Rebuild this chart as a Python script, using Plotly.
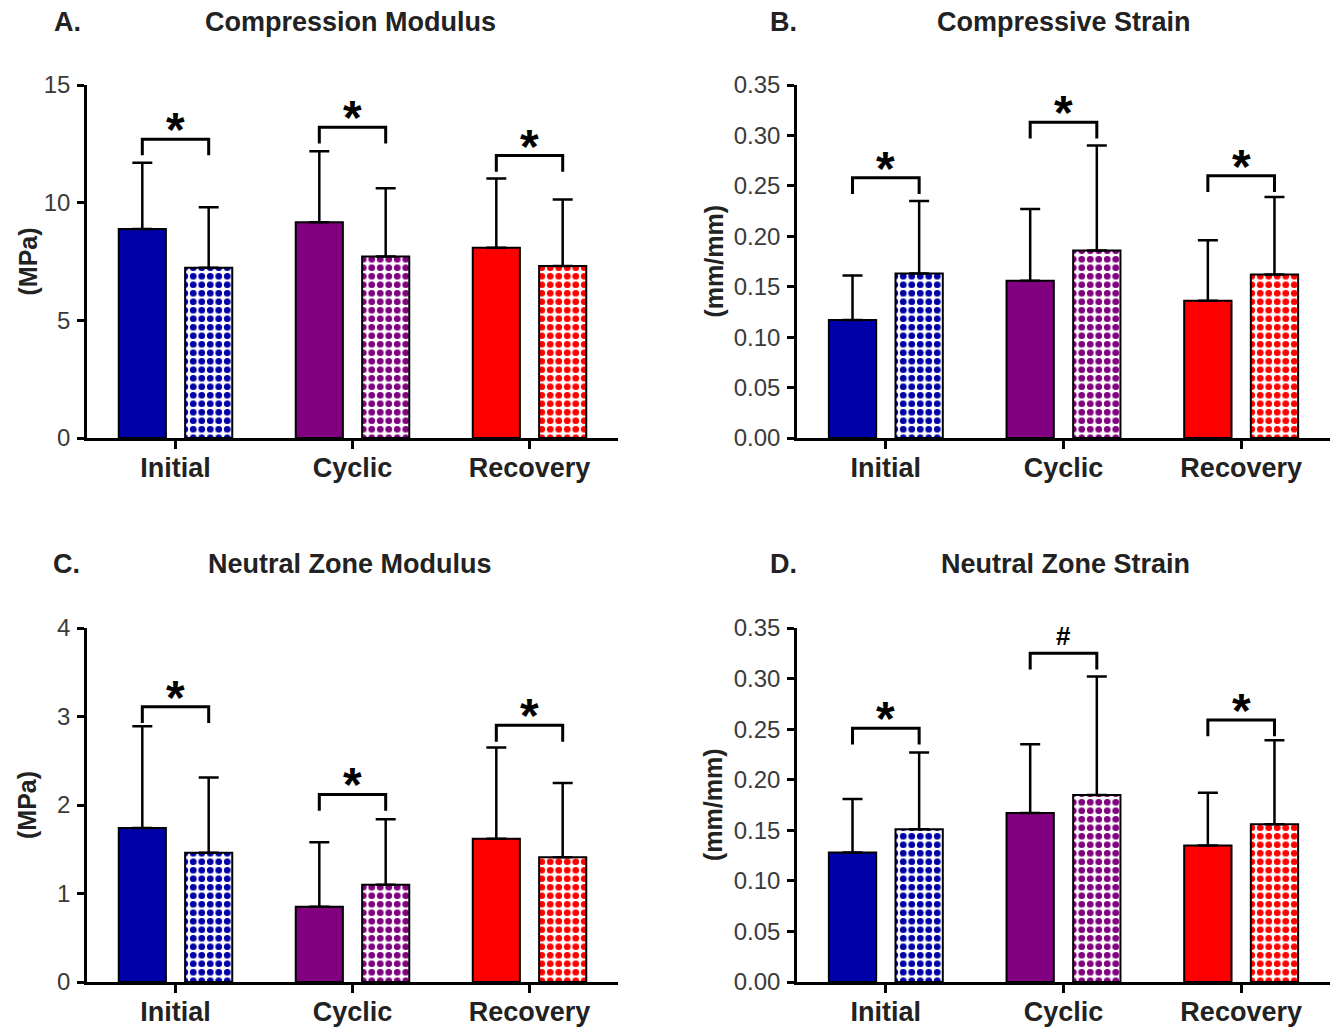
import plotly.graph_objects as go

categories = ["Initial", "Cyclic", "Recovery"]
colors = ["#0000A8", "#800080", "#FF0000"]

panel_titles = ["Compression Modulus", "Compressive Strain", "Neutral Zone Modulus", "Neutral Zone Strain"]
panel_letters = ["A.", "B.", "C.", "D."]
y_titles = ["(MPa)", "(mm/mm)", "(MPa)", "(mm/mm)"]

# Panel A - Compression Modulus
a_solid = [8.88, 9.17, 8.08]
a_solid_sd = [2.82, 3.01, 2.95]
a_check = [7.23, 7.71, 7.31]
a_check_sd = [2.57, 2.90, 2.82]
a_brackets = [12.7, 13.2, 12.0]
a_symbols = ["*", "*", "*"]

# Panel B - Compressive Strain
b_solid = [0.117, 0.156, 0.136]
b_solid_sd = [0.044, 0.071, 0.060]
b_check = [0.163, 0.186, 0.162]
b_check_sd = [0.072, 0.104, 0.077]
b_brackets = [0.258, 0.313, 0.260]
b_symbols = ["*", "*", "*"]

# Panel C - Neutral Zone Modulus
c_solid = [1.74, 0.85, 1.62]
c_solid_sd = [1.15, 0.73, 1.03]
c_check = [1.46, 1.10, 1.41]
c_check_sd = [0.85, 0.74, 0.84]
c_brackets = [3.11, 2.12, 2.90]
c_symbols = ["*", "*", "*"]

# Panel D - Neutral Zone Strain
d_solid = [0.128, 0.167, 0.135]
d_solid_sd = [0.053, 0.068, 0.052]
d_check = [0.151, 0.185, 0.156]
d_check_sd = [0.076, 0.117, 0.083]
d_brackets = [0.251, 0.325, 0.259]
d_symbols = ["*", "#", "*"]

y_ranges = [[0, 15], [0, 0.35], [0, 4], [0, 0.35]]
y_dticks = [5, 0.05, 1, 0.05]
y_formats = ["d", ".2f", "d", ".2f"]

panels = [
    (a_solid, a_solid_sd, a_check, a_check_sd, a_brackets, a_symbols),
    (b_solid, b_solid_sd, b_check, b_check_sd, b_brackets, b_symbols),
    (c_solid, c_solid_sd, c_check, c_check_sd, c_brackets, c_symbols),
    (d_solid, d_solid_sd, d_check, d_check_sd, d_brackets, d_symbols),
]

# figure size (page body adds an 8px margin on the top/left)
W, H = 1334, 1024
FONT = "Liberation Sans, Arial, sans-serif"

# plot-area boxes in figure pixels: (left, right, top, bottom)
boxes = [(79, 610, 77, 430), (789, 1322, 77, 430), (79, 610, 620, 974), (789, 1322, 620, 974)]
title_y = [14, 14, 556, 556]
title_x = [343, 1056, 342, 1057]
letter_x = [59, 775, 58, 775]
ytitle_x = [19, 705, 19, 705]

fig = go.Figure()
layout = dict(
    width=W, height=H, margin=dict(l=0, r=0, t=0, b=0, pad=0),
    paper_bgcolor="white", plot_bgcolor="white",
    barmode="group", bargap=0.25, bargroupgap=0.29,
    showlegend=False, font=dict(family=FONT),
)
annotations = []
half = 0.1875
x_idx = list(range(len(categories)))

for p, (solid, solid_sd, check, check_sd, brackets, symbols) in enumerate(panels):
    n = "" if p == 0 else str(p + 1)
    xa, ya = "x" + n, "y" + n
    l, r, t, b = boxes[p]
    layout["xaxis" + n] = dict(
        domain=[l / W, r / W], range=[-0.5, 2.5], anchor=ya,
        tickmode="array", tickvals=x_idx, ticktext=["<b>" + c + "</b>" for c in categories],
        showline=True, linecolor="black", linewidth=2.5,
        ticks="outside", ticklen=8, tickwidth=2.5, tickcolor="black",
        tickfont=dict(family=FONT, size=27, color="#222"), ticklabelstandoff=-4,
        showgrid=False, zeroline=False, fixedrange=True, automargin=False,
    )
    layout["yaxis" + n] = dict(
        domain=[1 - b / H, 1 - t / H], range=y_ranges[p], anchor=xa,
        dtick=y_dticks[p], tickformat=y_formats[p],
        showline=True, linecolor="black", linewidth=2.5,
        ticks="outside", ticklen=7, tickwidth=2.5, tickcolor="black",
        tickfont=dict(family=FONT, size=24, color="#3a3a3a"), ticklabelstandoff=2,
        showgrid=False, zeroline=False, fixedrange=True, automargin=False,
    )
    fig.add_trace(go.Bar(
        x=x_idx, y=solid, xaxis=xa, yaxis=ya,
        marker=dict(color=colors, line=dict(color="black", width=2)),
        error_y=dict(type="data", symmetric=False, array=solid_sd, arrayminus=[0] * 3,
                     color="black", thickness=2.5, width=10),
    ))
    fig.add_trace(go.Bar(
        x=x_idx, y=check, xaxis=xa, yaxis=ya,
        marker=dict(color=colors, line=dict(color="black", width=2),
                    pattern=dict(shape=".", fgcolor=colors, bgcolor="white",
                                 size=8.5, solidity=0.5, fillmode="replace")),
        error_y=dict(type="data", symmetric=False, array=check_sd, arrayminus=[0] * 3,
                     color="black", thickness=2.5, width=10),
    ))
    leg = 0.046 * (y_ranges[p][1] - y_ranges[p][0])
    bx, by = [], []
    for i, yb in enumerate(brackets):
        bx += [i - half, i - half, i + half, i + half, None]
        by += [yb - leg, yb, yb, yb - leg, None]
    fig.add_trace(go.Scatter(
        x=bx, y=by, xaxis=xa, yaxis=ya, mode="lines",
        line=dict(color="black", width=3), hoverinfo="skip",
    ))
    for i, (yb, s) in enumerate(zip(brackets, symbols)):
        if s == "*":
            annotations.append(dict(x=i, y=yb, xref=xa, yref=ya, text="<b>*</b>",
                                    showarrow=False, yanchor="bottom", yshift=-19,
                                    font=dict(family=FONT, size=48, color="black")))
        else:
            annotations.append(dict(x=i, y=yb, xref=xa, yref=ya, text="<b>" + s + "</b>",
                                    showarrow=False, yanchor="bottom", yshift=0,
                                    font=dict(family=FONT, size=26, color="black")))
    annotations.append(dict(x=title_x[p] / W, y=1 - title_y[p] / H, xref="paper", yref="paper",
                            text="<b>" + panel_titles[p] + "</b>", showarrow=False,
                            xanchor="center", yanchor="middle",
                            font=dict(family=FONT, size=27, color="#222")))
    annotations.append(dict(x=letter_x[p] / W, y=1 - title_y[p] / H, xref="paper", yref="paper",
                            text="<b>" + panel_letters[p] + "</b>", showarrow=False,
                            xanchor="center", yanchor="middle",
                            font=dict(family=FONT, size=27, color="#222")))
    annotations.append(dict(x=ytitle_x[p] / W, y=1 - ((t + b) / 2) / H,
                            xref="paper", yref="paper",
                            text="<b>" + y_titles[p] + "</b>", showarrow=False, textangle=-90,
                            xanchor="center", yanchor="middle",
                            font=dict(family=FONT, size=25, color="#222")))

layout["annotations"] = annotations
fig.update_layout(**layout)
fig.write_html("out.html")
